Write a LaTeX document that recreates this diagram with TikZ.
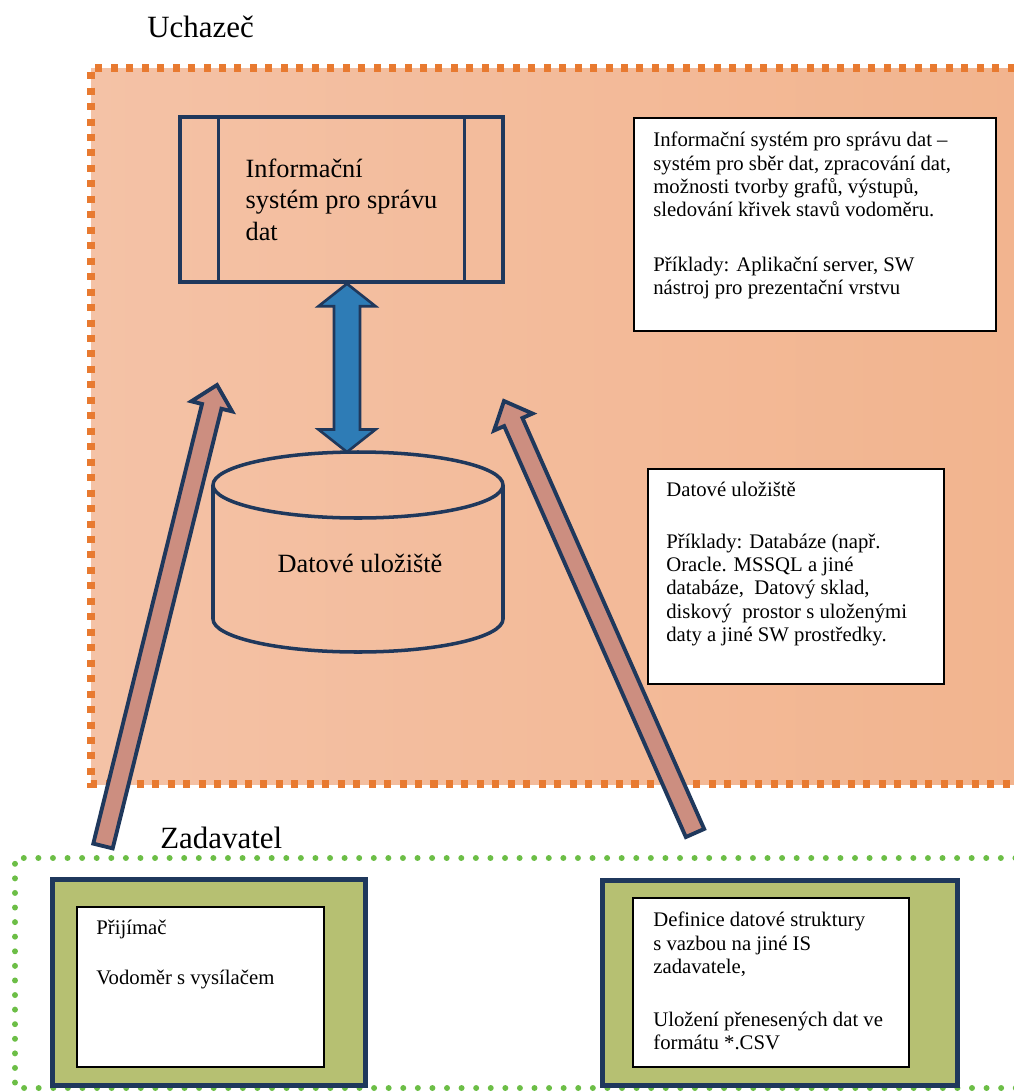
\documentclass[tikz,border=0pt]{standalone}
\usepackage{fontspec}
\setmainfont{Liberation Serif}
\usetikzlibrary{calc}

\definecolor{peachL}{RGB}{244,194,166}
\definecolor{peachR}{RGB}{242,180,142}
\definecolor{orangedash}{RGB}{232,122,48}
\definecolor{navy}{RGB}{31,56,92}
\definecolor{bluefill}{RGB}{46,124,182}
\definecolor{pinkfill}{RGB}{204,142,128}
\definecolor{olive}{RGB}{182,192,114}
\definecolor{greendot}{RGB}{108,190,70}

% fat arrow: style, tail, tip, shaft half width, head half width, head length
\newcommand{\fatarrow}[6]{%
  \coordinate (fabase) at ($(#3)!#6!(#2)$);
  \draw[#1] ($(#2)!#4!90:(#3)$) -- ($(fabase)!#4!90:(#3)$) -- ($(fabase)!#5!90:(#3)$)
    -- (#3) -- ($(fabase)!#5!-90:(#3)$) -- ($(fabase)!#4!-90:(#3)$) -- ($(#2)!#4!-90:(#3)$) -- cycle;}
% same with a head at both ends
\newcommand{\fatdarrow}[6]{%
  \coordinate (fabaseA) at ($(#2)!#6!(#3)$);
  \coordinate (fabaseB) at ($(#3)!#6!(#2)$);
  \draw[#1] (#2) -- ($(fabaseA)!#5!90:(#3)$) -- ($(fabaseA)!#4!90:(#3)$) -- ($(fabaseB)!#4!90:(#3)$)
    -- ($(fabaseB)!#5!90:(#3)$) -- (#3) -- ($(fabaseB)!#5!-90:(#3)$) -- ($(fabaseB)!#4!-90:(#3)$)
    -- ($(fabaseA)!#4!-90:(#3)$) -- ($(fabaseA)!#5!-90:(#3)$) -- cycle;}

\tikzset{
  title/.style={font=\fontsize{17.6}{20}\selectfont, inner sep=0pt, anchor=base west},
  txt/.style={font=\fontsize{11.8}{13.2}\selectfont, align=left, inner sep=0pt, anchor=north west},
  infobox/.style={draw=black, line width=0.9pt, fill=white, anchor=north west, inner sep=0pt},
  greenbox/.style={draw=navy, line width=2.6pt, fill=olive, anchor=north west, inner sep=0pt},
  isbox/.style={draw=navy, line width=2pt, font=\fontsize{15}{17.9}\selectfont, align=left},
  dbline/.style={draw=navy, line width=2pt},
  orangeborder/.style={draw=orangedash, line width=4pt, dash pattern=on 4pt off 4.8pt},
  greenborder/.style={draw=greendot, line width=3.4pt, line cap=round, dash pattern=on 0pt off 8.3pt},
  pinkarrow/.style={draw=navy, line width=2.2pt, fill=pinkfill, line join=miter},
  bluearrow/.style={draw=navy, line width=1.5pt, fill=bluefill, line join=miter},
}

\begin{document}
\begin{tikzpicture}[x=0.02cm, y=0.02cm]
    \useasboundingbox (0,0) rectangle (1014,-1092);
    \clip (0,0) rectangle (1014,-1092);

    % Uchazec
    \fill[left color=peachL, right color=peachR] (91,-68) rectangle (1030,-784);
    \draw[orangeborder] (1030,-68) -- (91,-68) -- (91,-784) -- (1030,-784);
    \node[title] (uchazec) at (147,-37) {Uchazeč};

    \node[isbox, minimum width=6.46cm, minimum height=3.3cm] (is) at (341.5,-199.5)
        {Informační\\systém pro správu\\dat};
    \draw[dbline] ([xshift=0.8cm]is.north west) -- ([xshift=0.8cm]is.south west);
    \draw[dbline] ([xshift=-0.8cm]is.north east) -- ([xshift=-0.8cm]is.south east);

    \draw[dbline] (213,-485) -- (213,-619) arc[start angle=180, end angle=360, x radius=145, y radius=33] -- (503,-485);
    \draw[dbline] (358,-485) ellipse [x radius=145, y radius=33];
    \coordinate (dbtop) at (358,-452);
    \node[font=\fontsize{15}{17.9}\selectfont] (db) at (360,-563) {Datové uložiště};

    \coordinate (bTop) at ([xshift=0.11cm]is.south);
    \coordinate (bBot) at (bTop |- dbtop);
    \fatdarrow{bluearrow}{bTop}{bBot}{0.26cm}{0.57cm}{0.45cm}

    \node[infobox, minimum width=7.24cm, minimum height=4.26cm] (isinfo) at (633,-117) {};
    \node[txt] (isinfotxt) at (653,-132) {Informační systém pro správu dat --\\systém pro sběr dat, zpracování dat,\\možnosti tvorby grafů, výstupů,\\sledování křivek stavů vodoměru.\\[18pt]Příklady: Aplikační server, SW\\nástroj pro prezentační vrstvu};

    \node[infobox, minimum width=5.92cm, minimum height=4.3cm] (dbinfo) at (647,-468) {};
    \node[txt] (dbinfotxt) at (666,-482) {Datové uložiště\\[16.3pt]Příklady: Databáze (např.\\Oracle. MSSQL a jiné\\databáze,~ Datový sklad,\\diskový~ prostor s uloženými\\daty a jiné SW prostředky.};

    % Zadavatel
    \draw[greenborder] (1030,-858) -- (15,-858) -- (15,-1088) -- (1030,-1088);
    \node[title] (zadavatel) at (160,-848) {Zadavatel};

    \node[greenbox, minimum width=6.26cm, minimum height=4.12cm] (rxouter) at (50,-877) {};
    \node[infobox, minimum width=4.94cm, minimum height=3.2cm] (rxinner) at (76,-906) {};
    \node[txt] (rxtxt) at (96,-920) {Přijímač\\[15.2pt]Vodoměr s vysílačem};

    \node[greenbox, minimum width=7.1cm, minimum height=4.1cm] (defouter) at (600,-878) {};
    \node[infobox, minimum width=5.52cm, minimum height=3.38cm] (definner) at (632,-897) {};
    \node[txt] (deftxt) at (653,-912) {Definice datové struktury\\s vazbou na jiné IS\\zadavatele,\\[16.8pt]Uložení přenesených dat ve\\formátu *.CSV};

    % sipky
    \coordinate (plTail) at (103,-846);
    \coordinate (plTip) at (217,-385);
    \coordinate (prTail) at (695,-833);
    \coordinate (prTip) at (504,-401);
    \fatarrow{pinkarrow}{plTail}{plTip}{0.2cm}{0.42cm}{0.44cm}
    \fatarrow{pinkarrow}{prTail}{prTip}{0.2cm}{0.42cm}{0.46cm}
\end{tikzpicture}
\end{document}
